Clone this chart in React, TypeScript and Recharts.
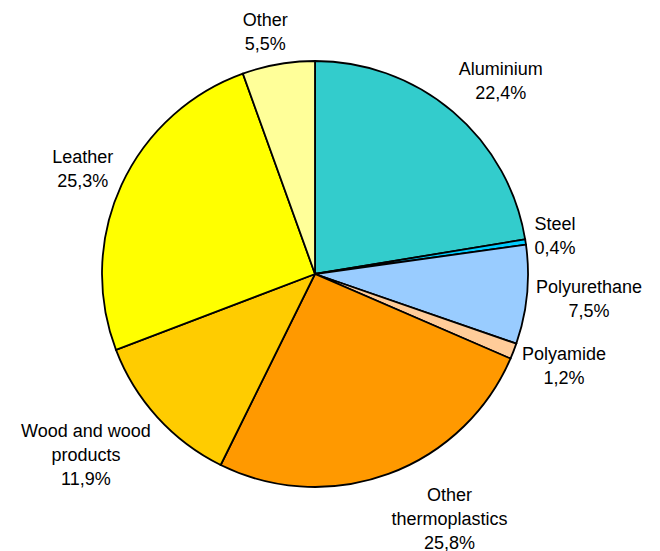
import React from 'react';
import { PieChart, Pie, Cell } from 'recharts';

const categories = [
  'Aluminium',
  'Steel',
  'Polyurethane',
  'Polyamide',
  'Other thermoplastics',
  'Wood and wood products',
  'Leather',
  'Other',
];
const shares = [22.4, 0.4, 7.5, 1.2, 25.8, 11.9, 25.3, 5.5];
const labelLines: string[][] = [
  ['Aluminium'],
  ['Steel'],
  ['Polyurethane'],
  ['Polyamide'],
  ['Other', 'thermoplastics'],
  ['Wood and wood', 'products'],
  ['Leather'],
  ['Other'],
];
const colors = ['#33CCCC', '#00CCFF', '#99CCFF', '#FFCC99', '#FF9900', '#FFCC00', '#FFFF00', '#FFFF99'];

const data = categories.map((name, i) => ({ name, value: shares[i] }));

const FONT_SIZE = 18;
const LINE_H = 24;
const FONT_FAMILY = '"Liberation Sans", Arial, sans-serif';
const RAD = Math.PI / 180;

let ctx: CanvasRenderingContext2D | null = null;
const textWidth = (s: string) => {
  try {
    if (!ctx) ctx = document.createElement('canvas').getContext('2d');
    if (ctx) {
      ctx.font = `${FONT_SIZE}px ${FONT_FAMILY}`;
      return ctx.measureText(s).width;
    }
  } catch (e) {}
  return s.length * FONT_SIZE * 0.55;
};

const clamp = (v: number) => Math.max(-1, Math.min(1, v));
const fmt = (v: number) => v.toFixed(1).replace('.', ',') + '%';

const renderLabel = (props: any) => {
  const { cx, cy, midAngle, outerRadius, index, value } = props;
  const a = -midAngle * RAD;
  const dx = Math.cos(a);
  const dy = Math.sin(a);
  const r = outerRadius + 9;
  const ax = cx + r * dx;
  const ay = cy + r * dy;
  const lines = [...labelLines[index], fmt(value)];
  const W = Math.max(...lines.map(textWidth));
  const H = lines.length * LINE_H;
  const bx = ax + clamp(dx * 3) * (W / 2);
  const by = ay + clamp(dy * 1.3) * (H / 2);
  const top = by - H / 2;
  return (
    <text
      key={`lbl-${index}`}
      textAnchor="middle"
      fontFamily={FONT_FAMILY}
      fontSize={FONT_SIZE}
      fill="#000"
    >
      {lines.map((l, i) => (
        <tspan key={i} x={bx} y={top + LINE_H * (i + 0.5) + 6.4}>
          {l}
        </tspan>
      ))}
    </text>
  );
};

export default function App() {
  return (
    <div style={{ position: 'absolute', left: 0, top: 0, width: 660, height: 551, background: '#fff' }}>
      <PieChart width={660} height={551} margin={{ top: 0, right: 0, bottom: 0, left: 0 }}>
        <Pie
          data={data}
          dataKey="value"
          nameKey="name"
          cx={315}
          cy={274}
          outerRadius={213}
          startAngle={90}
          endAngle={-270}
          stroke="#000"
          strokeWidth={1.8}
          label={renderLabel}
          labelLine={false}
          isAnimationActive={false}
        >
          {data.map((d, i) => (
            <Cell key={d.name} fill={colors[i]} stroke="#000" strokeWidth={1.8} />
          ))}
        </Pie>
      </PieChart>
    </div>
  );
}
